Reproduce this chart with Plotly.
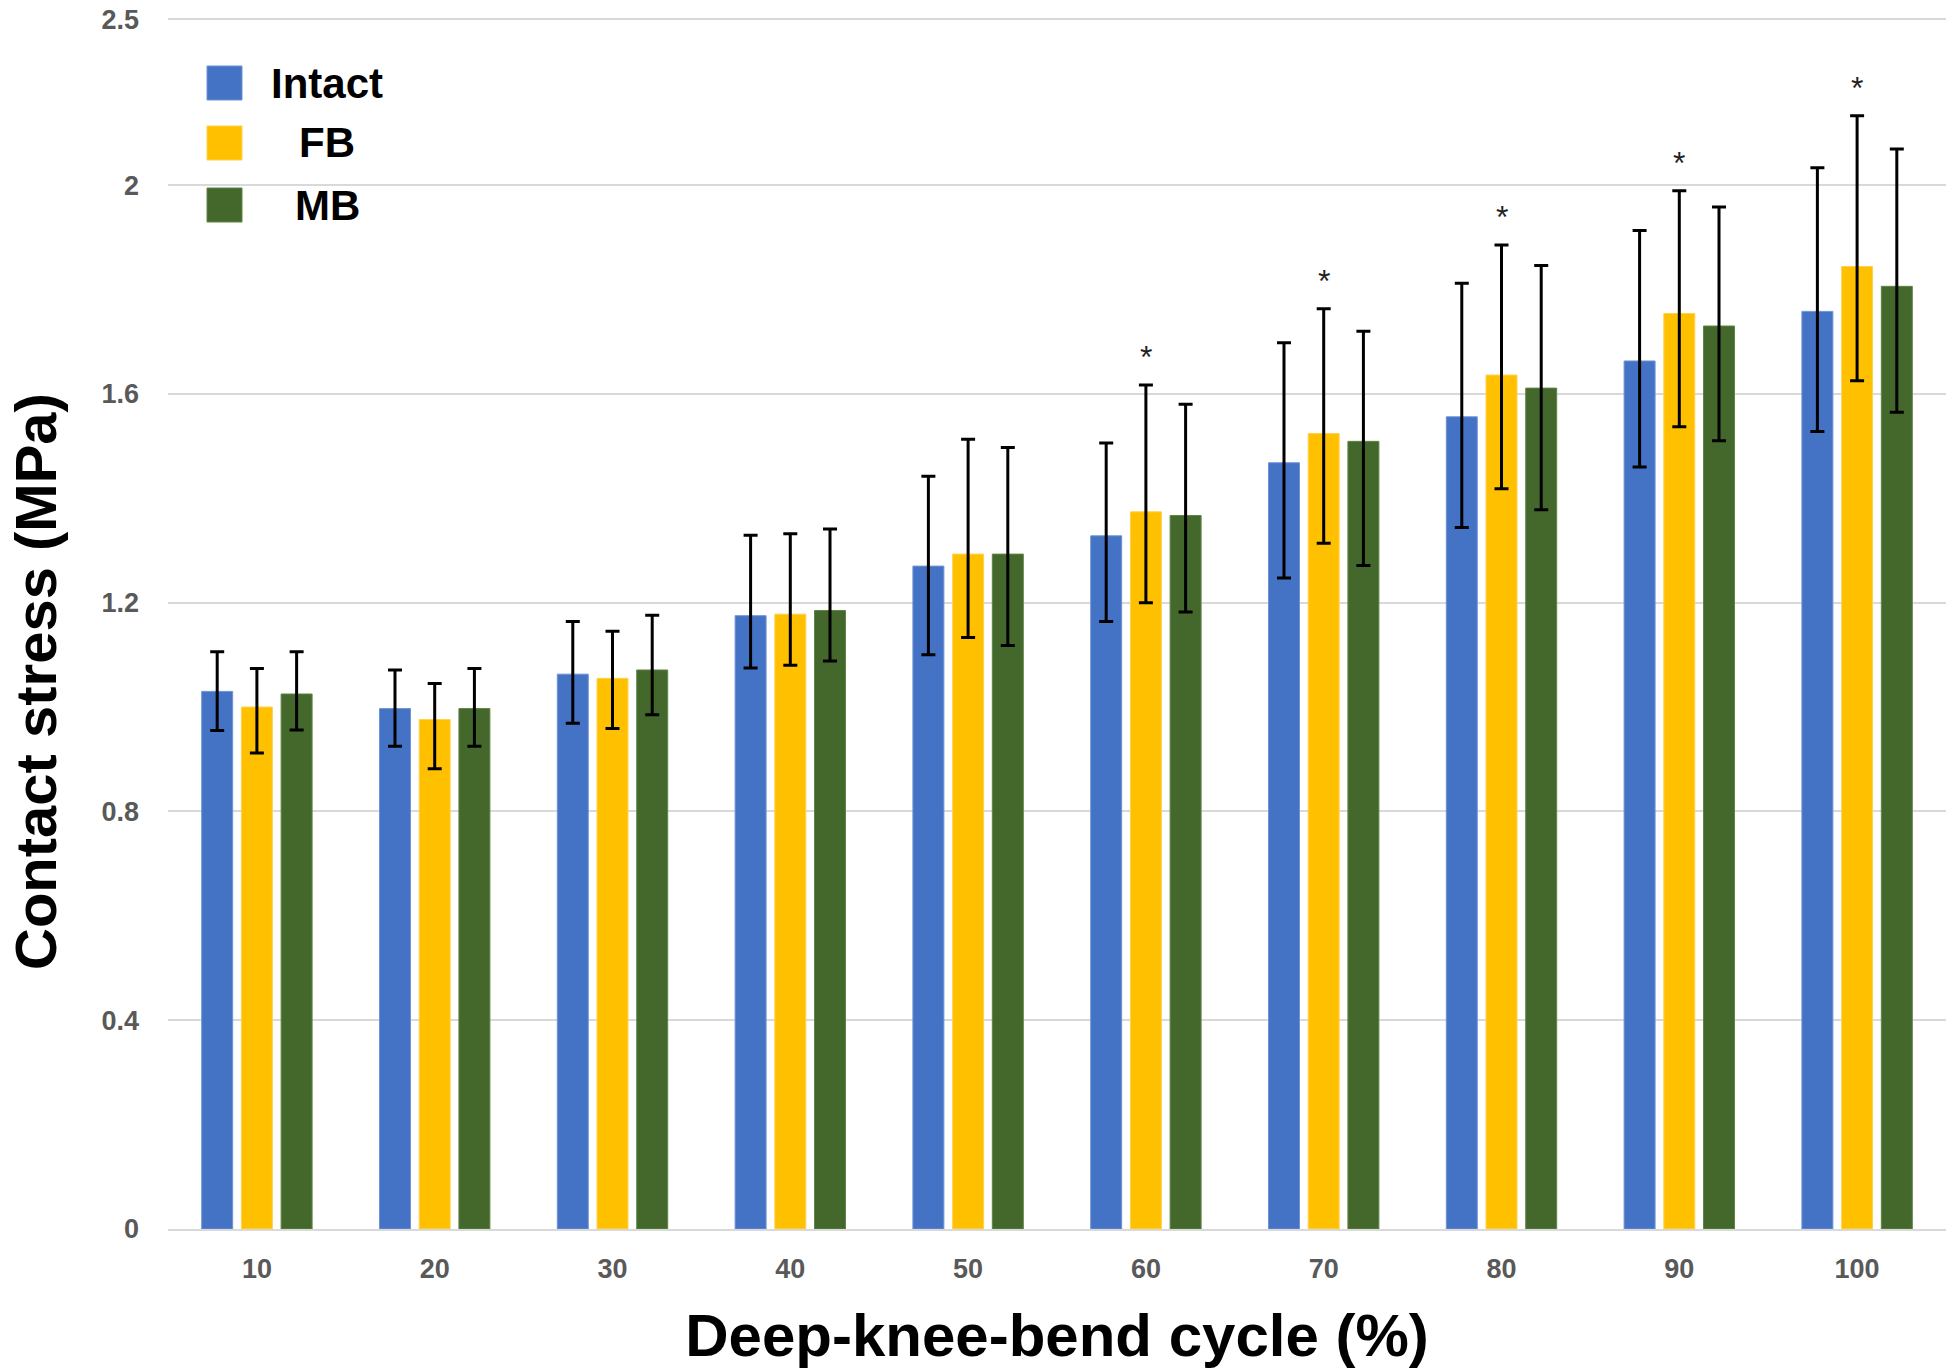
import plotly.graph_objects as go

# ---------------- data ----------------
categories = ["10", "20", "30", "40", "50", "60", "70", "80", "90", "100"]
series_names = ["Intact", "FB", "MB"]

intact = [1.030, 0.997, 1.063, 1.175, 1.270, 1.328, 1.468, 1.556, 1.663, 1.758]
intact_plus = [0.076, 0.074, 0.101, 0.154, 0.172, 0.178, 0.230, 0.256, 0.250, 0.275]
intact_minus = [0.075, 0.072, 0.094, 0.100, 0.170, 0.164, 0.221, 0.212, 0.203, 0.230]

fb = [1.000, 0.976, 1.055, 1.178, 1.293, 1.374, 1.524, 1.636, 1.754, 1.844]
fb_plus = [0.074, 0.069, 0.090, 0.154, 0.220, 0.243, 0.239, 0.249, 0.235, 0.289]
fb_minus = [0.088, 0.094, 0.096, 0.098, 0.160, 0.174, 0.210, 0.218, 0.217, 0.219]

mb = [1.025, 0.997, 1.071, 1.185, 1.293, 1.367, 1.509, 1.611, 1.730, 1.806]
mb_plus = [0.081, 0.077, 0.105, 0.156, 0.204, 0.213, 0.211, 0.235, 0.228, 0.263]
mb_minus = [0.069, 0.072, 0.086, 0.097, 0.175, 0.185, 0.238, 0.233, 0.220, 0.241]

star_groups = ["60", "70", "80", "90", "100"]

y_tick_vals = [0, 0.4, 0.8, 1.2, 1.6, 2.0, 2.318]
y_tick_text = ["0", "0.4", "0.8", "1.2", "1.6", "2", "2.5"]
y_max = 2.322

x_title = "Deep-knee-bend cycle (%)"
y_title = "Contact stress (MPa)"

# ---------------- style ----------------
colors = ["#4472C4", "#FFC000", "#44682B"]
edge_colors = ["#6F93D6", "#FFD24D", "#5E8445"]
FONT = "Liberation Sans, Arial, sans-serif"

W, H = 1946, 1372
ML, MR, MT, MB_ = 168, 0, 17, 143
PW = W - ML - MR
PH = H - MT - MB_


def px_x(px):
    return (px - ML) / PW


def px_y(py):
    return (H - MB_ - py) / PH


fig = go.Figure()
for name, vals, ep, em, c, ec in zip(
    series_names,
    [intact, fb, mb],
    [intact_plus, fb_plus, mb_plus],
    [intact_minus, fb_minus, mb_minus],
    colors,
    edge_colors,
):
    fig.add_trace(
        go.Bar(
            name=name,
            x=categories,
            y=vals,
            marker=dict(color=c, line=dict(color=ec, width=1)),
            error_y=dict(
                type="data",
                symmetric=False,
                array=ep,
                arrayminus=em,
                color="#000000",
                thickness=3,
                width=7,
            ),
            showlegend=False,
        )
    )

# significance stars above FB error bars (FB is the middle bar of each group)
for g in star_groups:
    i = categories.index(g)
    fig.add_annotation(
        x=i,
        y=fb[i] + fb_plus[i],
        xref="x",
        yref="y",
        text="*",
        showarrow=False,
        yanchor="middle",
        yshift=28,
        font=dict(family=FONT, size=32, color="#222222"),
    )

# custom legend (large squares, bold labels)
legend_rows = [83, 143, 205]
for name, c, ec, cy in zip(series_names, colors, edge_colors, legend_rows):
    fig.add_shape(
        type="rect",
        xref="paper",
        yref="paper",
        x0=px_x(207),
        x1=px_x(242),
        y0=px_y(cy + 17),
        y1=px_y(cy - 17),
        fillcolor=c,
        line=dict(color=ec, width=1),
    )
    fig.add_annotation(
        xref="paper",
        yref="paper",
        x=px_x(327),
        y=px_y(cy),
        text=f"<b>{name}</b>",
        showarrow=False,
        xanchor="center",
        yanchor="middle",
        font=dict(family=FONT, size=42, color="#000000"),
    )

# y-axis title (placed lower than plot centre, as in the original)
fig.add_annotation(
    xref="paper",
    yref="paper",
    x=px_x(35),
    y=px_y(682),
    text=f"<b>{y_title}</b>",
    textangle=-90,
    showarrow=False,
    xanchor="center",
    yanchor="middle",
    font=dict(family=FONT, size=58, color="#000000"),
)

fig.update_layout(
    width=W,
    height=H,
    margin=dict(l=ML, r=MR, t=MT, b=MB_, autoexpand=False),
    paper_bgcolor="white",
    plot_bgcolor="white",
    barmode="group",
    bargap=0.33,
    bargroupgap=0.22,
    font=dict(family=FONT),
)

fig.update_xaxes(
    type="category",
    categoryorder="array",
    categoryarray=categories,
    range=[-0.5, len(categories) - 0.5],
    showgrid=False,
    showline=True,
    linecolor="#D9D9D9",
    linewidth=2,
    ticks="",
    tickfont=dict(family=FONT, size=27, color="#595959", weight="bold"),
    ticklabelstandoff=15,
    title=dict(
        text=f"<b>{x_title}</b>",
        font=dict(family=FONT, size=60, color="#000000"),
        standoff=31,
    ),
    automargin=False,
)

fig.update_yaxes(
    range=[0, y_max],
    tickvals=y_tick_vals,
    ticktext=y_tick_text,
    showgrid=True,
    gridcolor="#D9D9D9",
    gridwidth=2,
    zeroline=False,
    showline=False,
    ticks="",
    tickfont=dict(family=FONT, size=27, color="#595959", weight="bold"),
    ticklabelstandoff=28,
    ticklabeloverflow="allow",
    automargin=False,
)

# remove the default 8px page margin so the figure fills the window exactly
fig.write_html(
    "out.html",
    config={"displayModeBar": False},
    post_script="document.body.style.margin='0';document.body.style.padding='0';",
)
